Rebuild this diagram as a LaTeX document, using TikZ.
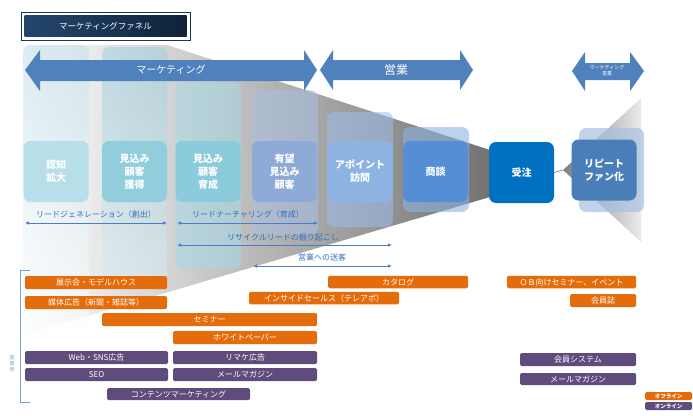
\documentclass[tikz,border=0pt]{standalone}
\usepackage{fontspec}
\setmainfont{Noto Sans CJK JP}
\usetikzlibrary{arrows.meta}
\definecolor{arrowblue}{HTML}{4F81BD}
\definecolor{lblue}{HTML}{2F6FBF}
\definecolor{lineblue}{HTML}{4A7CC7}
\definecolor{orangebar}{HTML}{E46C0A}
\definecolor{purplebar}{HTML}{5F4B7C}
\definecolor{navyA}{HTML}{24466E}
\definecolor{navyB}{HTML}{0E2239}
\definecolor{navyline}{HTML}{17375E}
\definecolor{stA}{HTML}{B7DEE9}
\definecolor{stB}{HTML}{92CDDC}
\definecolor{stC}{HTML}{8CCBDB}
\definecolor{stD}{HTML}{8EAAD6}
\definecolor{stE}{HTML}{8DB3E2}
\definecolor{stF}{HTML}{558ED5}
\definecolor{stG}{HTML}{0070C0}
\definecolor{stH}{HTML}{4A7EB8}
\definecolor{cA}{HTML}{C6E0EC}
\definecolor{cB}{HTML}{9FCFDF}
\definecolor{cC}{HTML}{A4DBE8}
\definecolor{cD}{HTML}{A8C0E8}
\definecolor{cE}{HTML}{9DBDEC}
\definecolor{cF}{HTML}{8DB3E2}
\definecolor{cH}{HTML}{A6C1E0}
\definecolor{bracketblue}{HTML}{7AA0D6}
\tikzset{
  stage/.style={rounded corners=7pt, text=white, align=center, inner sep=0pt,
    font=\fontsize{10}{13}\selectfont\bfseries, minimum width=65pt, minimum height=61pt},
  stripbox/.style={rounded corners=7pt},
  bar/.style={rounded corners=1.5pt, text=white, inner sep=0pt,
    font=\fontsize{8}{9}\selectfont, minimum height=13pt},
  obar/.style={bar, fill=orangebar},
  pbar/.style={bar, fill=purplebar},
  lbl/.style={text=lblue, font=\fontsize{8}{9}\selectfont, inner sep=0pt},
  spanarrow/.style={draw=lineblue, line width=0.8pt,
    {Latex[length=4pt,width=3.5pt]}-{Latex[length=4pt,width=3.5pt]}},
  bigarrow/.style={fill=arrowblue},
  arrowtext/.style={text=white, inner sep=0pt, align=center},
}
\begin{document}
\begin{tikzpicture}[x=1pt,y=-1pt]
\useasboundingbox (0,0) rectangle (693,415);

% title
\draw[navyline, line width=1pt, fill=white] (21,12) rectangle (190,40);
\node[left color=navyA, right color=navyB, minimum width=162pt, minimum height=21pt,
  inner sep=0pt, text=white, font=\fontsize{8.5}{10}\selectfont] (title) at (105.5,26) {マーケティングファネル};

% funnels
\shade[left color=white, right color=black!55] (23,45) -- (167,45) -- (490,150) -- (490,197) -- (23,335) -- cycle;
\coordinate (rapex) at (563,170);
\shade[left color=black!50, right color=black!8] (rapex) -- (641,98) -- (641,242) -- cycle;

% column strips
\shade[stripbox, top color=cA, bottom color=white, opacity=0.6] (23,45) rectangle (89,335);
\shade[stripbox, top color=cB, bottom color=cB!40!white, opacity=0.55] (102,47) rectangle (167,280);
\fill[stripbox, cC, opacity=0.5] (175,82) rectangle (241,268);
\fill[stripbox, cD, opacity=0.5] (252,90) rectangle (318,235);
\fill[stripbox, cE, opacity=0.55] (327,112) rectangle (393,227);
\fill[stripbox, cF, opacity=0.6] (403,127) rectangle (469,212);
\fill[stripbox, cH, opacity=0.7] (579,128) rectangle (644,212);

% big arrows
\fill[bigarrow] (25,70) -- (40,50) -- (40,60) -- (304,60) -- (304,50) -- (317,70)
  -- (304,91) -- (304,81) -- (40,81) -- (40,91) -- cycle;
\node[arrowtext, font=\fontsize{10}{12}\selectfont] (mkt) at (171,70) {マーケティング};
\fill[bigarrow] (320,70) -- (333,50) -- (333,60) -- (460,60) -- (460,50) -- (473,70)
  -- (460,90) -- (460,80) -- (333,80) -- (333,90) -- cycle;
\node[arrowtext, font=\fontsize{12}{14}\selectfont] (sales) at (396,70) {営業};
\fill[bigarrow] (572,71) -- (585,52) -- (585,63) -- (630,63) -- (630,52) -- (644,71)
  -- (630,91) -- (630,80) -- (585,80) -- (585,91) -- cycle;
\node[arrowtext, font=\fontsize{5}{6}\selectfont] (mktsales) at (607,71) {マーケティング\\営業};

% stage boxes
\node[stage, fill=stA] (s1) at (56,171.5) {認知\\拡大};
\node[stage, fill=stB] (s2) at (134.5,171.5) {見込み\\顧客\\獲得};
\node[stage, fill=stC] (s3) at (208,171.5) {見込み\\顧客\\育成};
\node[stage, fill=stD] (s4) at (284.5,171.5) {有望\\見込み\\顧客};
\node[stage, fill=stE] (s5) at (360,171.5) {アポイント\\訪問};
\node[stage, fill=stF] (s6) at (435.5,171.5) {商談};
\node[stage, fill=stG] (s7) at (521.5,172.5) {受注};
\node[stage, fill=stH] (s8) at (604,170) {リピート\\ファン化};
\draw[black!45, line width=0.8pt] (s7.east) -- (rapex);

% span labels and arrows
\node[lbl] (l1) at (96,214) {リードジェネレーション（創出）};
\node[lbl] (l2) at (248,214) {リードナーチャリング（育成）};
\node[lbl] (l3) at (283,237) {リサイクルリードの掘り起こし};
\node[lbl] (l4) at (322,257) {営業への送客};
\coordinate (a1l) at (25,223);  \coordinate (a1r) at (167,223);
\coordinate (a2l) at (177,223); \coordinate (a2r) at (318,223);
\coordinate (a3l) at (177,245); \coordinate (a3r) at (392,245);
\coordinate (a4l) at (253,266); \coordinate (a4r) at (392,266);
\draw[spanarrow] (a1l) -- (a1r);
\draw[spanarrow] (a2l) -- (a2r);
\draw[spanarrow] (a3l) -- (a3r);
\draw[spanarrow] (a4l) -- (a4r);

% bracket
\draw[bracketblue, line width=0.8pt] (30,270) -- (20,270) -- (20,402) -- (30,402);
\node[text=bracketblue, font=\fontsize{5}{6}\selectfont, align=center, inner sep=0pt] (ex) at (12,364) {施\\策\\例};

% offline bars
\node[obar, minimum width=142pt] (b1) at (96,282.5) {展示会・モデルハウス};
\node[obar, minimum width=142pt] (b2) at (96,302.5) {媒体広告（新聞・雑誌等）};
\node[obar, minimum width=215pt] (b3) at (209.5,319.5) {セミナー};
\node[obar, minimum width=144pt] (b4) at (245,337.5) {ホワイトペーパー};
\node[obar, minimum width=140pt, minimum height=12.5pt] (b5) at (398,282) {カタログ};
\node[obar, minimum width=150pt, minimum height=12.5pt] (b6) at (324,298) {インサイドセールス（テレアポ）};
\node[obar, minimum width=129pt, minimum height=12.5pt] (b7) at (571.5,282) {ＯＢ向けセミナー、イベント};
\node[obar, minimum width=66pt] (b8) at (603,300.5) {会員誌};

% online bars
\node[pbar, minimum width=143pt] (p1) at (96.5,357.5) {Web・SNS広告};
\node[pbar, minimum width=143pt] (p2) at (96.5,374.5) {SEO};
\node[pbar, minimum width=144pt] (p3) at (245,357.5) {リマケ広告};
\node[pbar, minimum width=144pt] (p4) at (245,374.5) {メールマガジン};
\node[pbar, minimum width=143pt, minimum height=12pt] (p5) at (178.5,394) {コンテンツマーケティング};
\node[pbar, minimum width=116pt] (p6) at (578,359.5) {会員システム};
\node[pbar, minimum width=116pt, minimum height=12pt] (p7) at (578,379) {メールマガジン};

% legend
\node[obar, minimum width=47pt, minimum height=8pt, font=\fontsize{5.5}{6}\selectfont\bfseries] (lg1) at (668.5,396) {オフライン};
\node[pbar, minimum width=47pt, minimum height=8pt, font=\fontsize{5.5}{6}\selectfont\bfseries] (lg2) at (668.5,406) {オンライン};
\end{tikzpicture}
\end{document}
